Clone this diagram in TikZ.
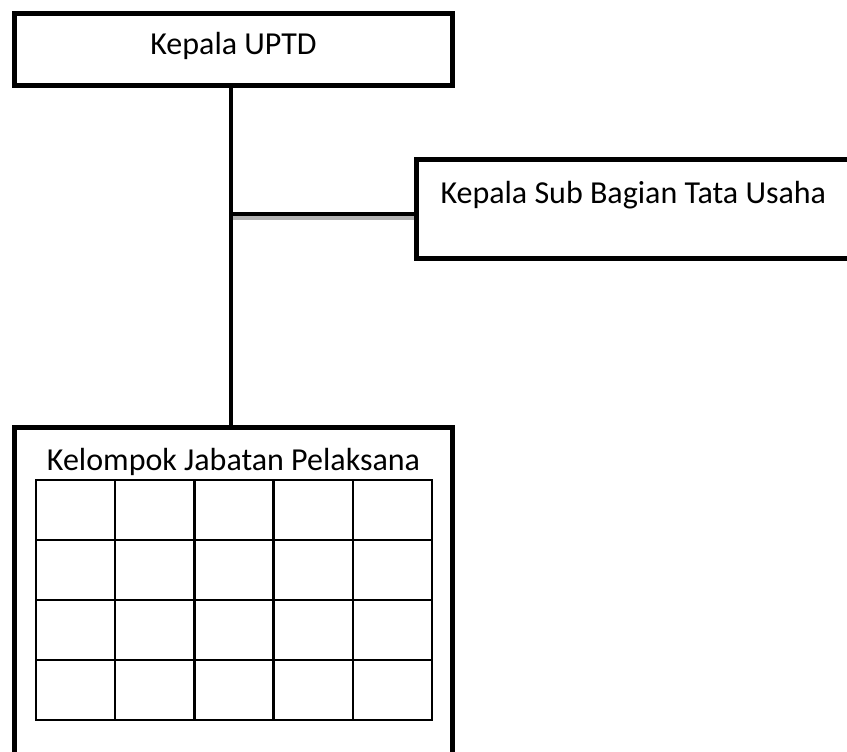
\documentclass[tikz,border=0pt]{standalone}
\usepackage{fontspec}
\setmainfont{Carlito}
\usetikzlibrary{positioning}

\begin{document}
\begin{tikzpicture}[x = 1pt, y = -1pt,
        box/.style = {draw = black, line width = 5pt, inner sep = 0pt, outer sep = 0pt,
            font = \fontsize{32}{38}\selectfont},
        link/.style = {draw = black, line width = 4.5pt},
        cell/.style = {draw = black, line width = 2.5pt}]
        \clip (0, 0) rectangle (847, 752);

        \node [box, minimum width = 438pt, minimum height = 72pt, text height = 24pt, text depth = 13pt] (uptd) at (233.5, 49.5) {Kepala UPTD};
        \node [box, anchor = north west, minimum height = 99pt, text width = 412pt, align = flush left, inner xsep = 24pt,
            text height = 22pt, text depth = 33pt] (tu) at (416.5, 159) {Kepala Sub Bagian Tata Usaha};
        \node [box, anchor = north, minimum width = 438pt, minimum height = 360pt] (jp) at (233.5, 427.5) {};
        \node [font = \fontsize{32}{38}\selectfont, inner sep = 0pt, text height = 24pt, text depth = 8pt,
            below = 18.5pt of jp.north] (jptitle) {Kelompok Jabatan Pelaksana};

        % tabel pelaksana
        \foreach \c in {0, ..., 4}
            \foreach \r in {0, ..., 3}
                \draw [cell] (36 + \c * 79.2, 480 + \r * 60) rectangle ++(79.2, 60);

        % garis
        \coordinate (spine) at ([xshift = -2.5pt] uptd.south);
        \draw [link, draw = gray!60, shorten < = 2.5pt] ([yshift = -9pt] tu.west) -- ([yshift = -9pt] tu.west -| spine);
        \draw [link] ([yshift = -5.5pt] tu.west) -- ([yshift = -5.5pt] tu.west -| spine);
        \draw [link] (spine) -- (spine |- jp.north);
    \end{tikzpicture}
\end{document}
